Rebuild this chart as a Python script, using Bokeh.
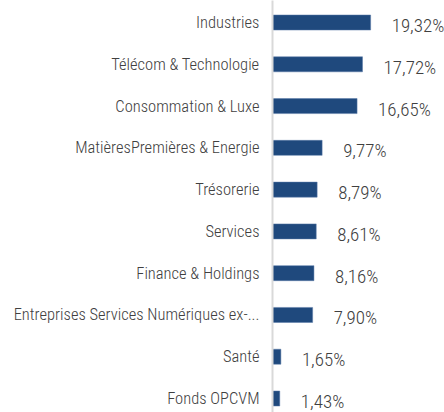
from bokeh.plotting import figure
from bokeh.models import ColumnDataSource, Range1d, FixedTicker
from bokeh.core.properties import value
from bokeh.embed import file_html
from bokeh.resources import INLINE

categories = ["Industries", "Télécom & Technologie", "Consommation & Luxe",
              "MatièresPremières & Energie", "Trésorerie", "Services",
              "Finance & Holdings", "Entreprises Services Numériques ex-...",
              "Santé", "Fonds OPCVM"]
values = [19.32, 17.72, 16.65, 9.77, 8.79, 8.61, 8.16, 7.90, 1.65, 1.43]
value_labels = ["19,32%", "17,72%", "16,65%", "9,77%", "8,79%", "8,61%",
                "8,16%", "7,90%", "1,65%", "1,43%"]

FONT = "'Roboto Condensed Light', 'Roboto Condensed'"
positions = list(range(len(categories)))

src = ColumnDataSource(dict(y=positions, v=values, lab=value_labels))

p = figure(width=444, height=412, output_backend="svg", toolbar_location=None,
           x_range=Range1d(0, 33.86), y_range=Range1d(9.335, -0.527),
           min_border_left=272, min_border_right=0, min_border_top=0,
           min_border_bottom=0)
p.outline_line_color = None
p.grid.visible = False
p.xaxis.visible = False

p.hbar(y="y", right="v", left=0, height=0.36, source=src,
       fill_color="#1F497D", line_color="#5A7BA8", line_width=0.5)

p.text(x="v", y="y", text="lab", source=src, x_offset=21, y_offset=3,
       text_align="left", text_baseline="middle", text_color="#404040",
       text_font=value(FONT), text_font_size=value("19px"))

ya = p.yaxis[0]
ya.ticker = FixedTicker(ticks=positions)
ya.major_label_overrides = {i: c for i, c in enumerate(categories)}
ya.major_tick_line_color = None
ya.minor_tick_line_color = None
ya.major_tick_out = 0
ya.major_tick_in = 0
ya.axis_line_color = "#D9D9D9"
ya.axis_line_width = 2
ya.major_label_standoff = 13
ya.major_label_text_font = FONT
ya.major_label_text_font_size = "16.5px"
ya.major_label_text_color = "#404040"

open("out.html", "w").write(file_html(p, INLINE))
